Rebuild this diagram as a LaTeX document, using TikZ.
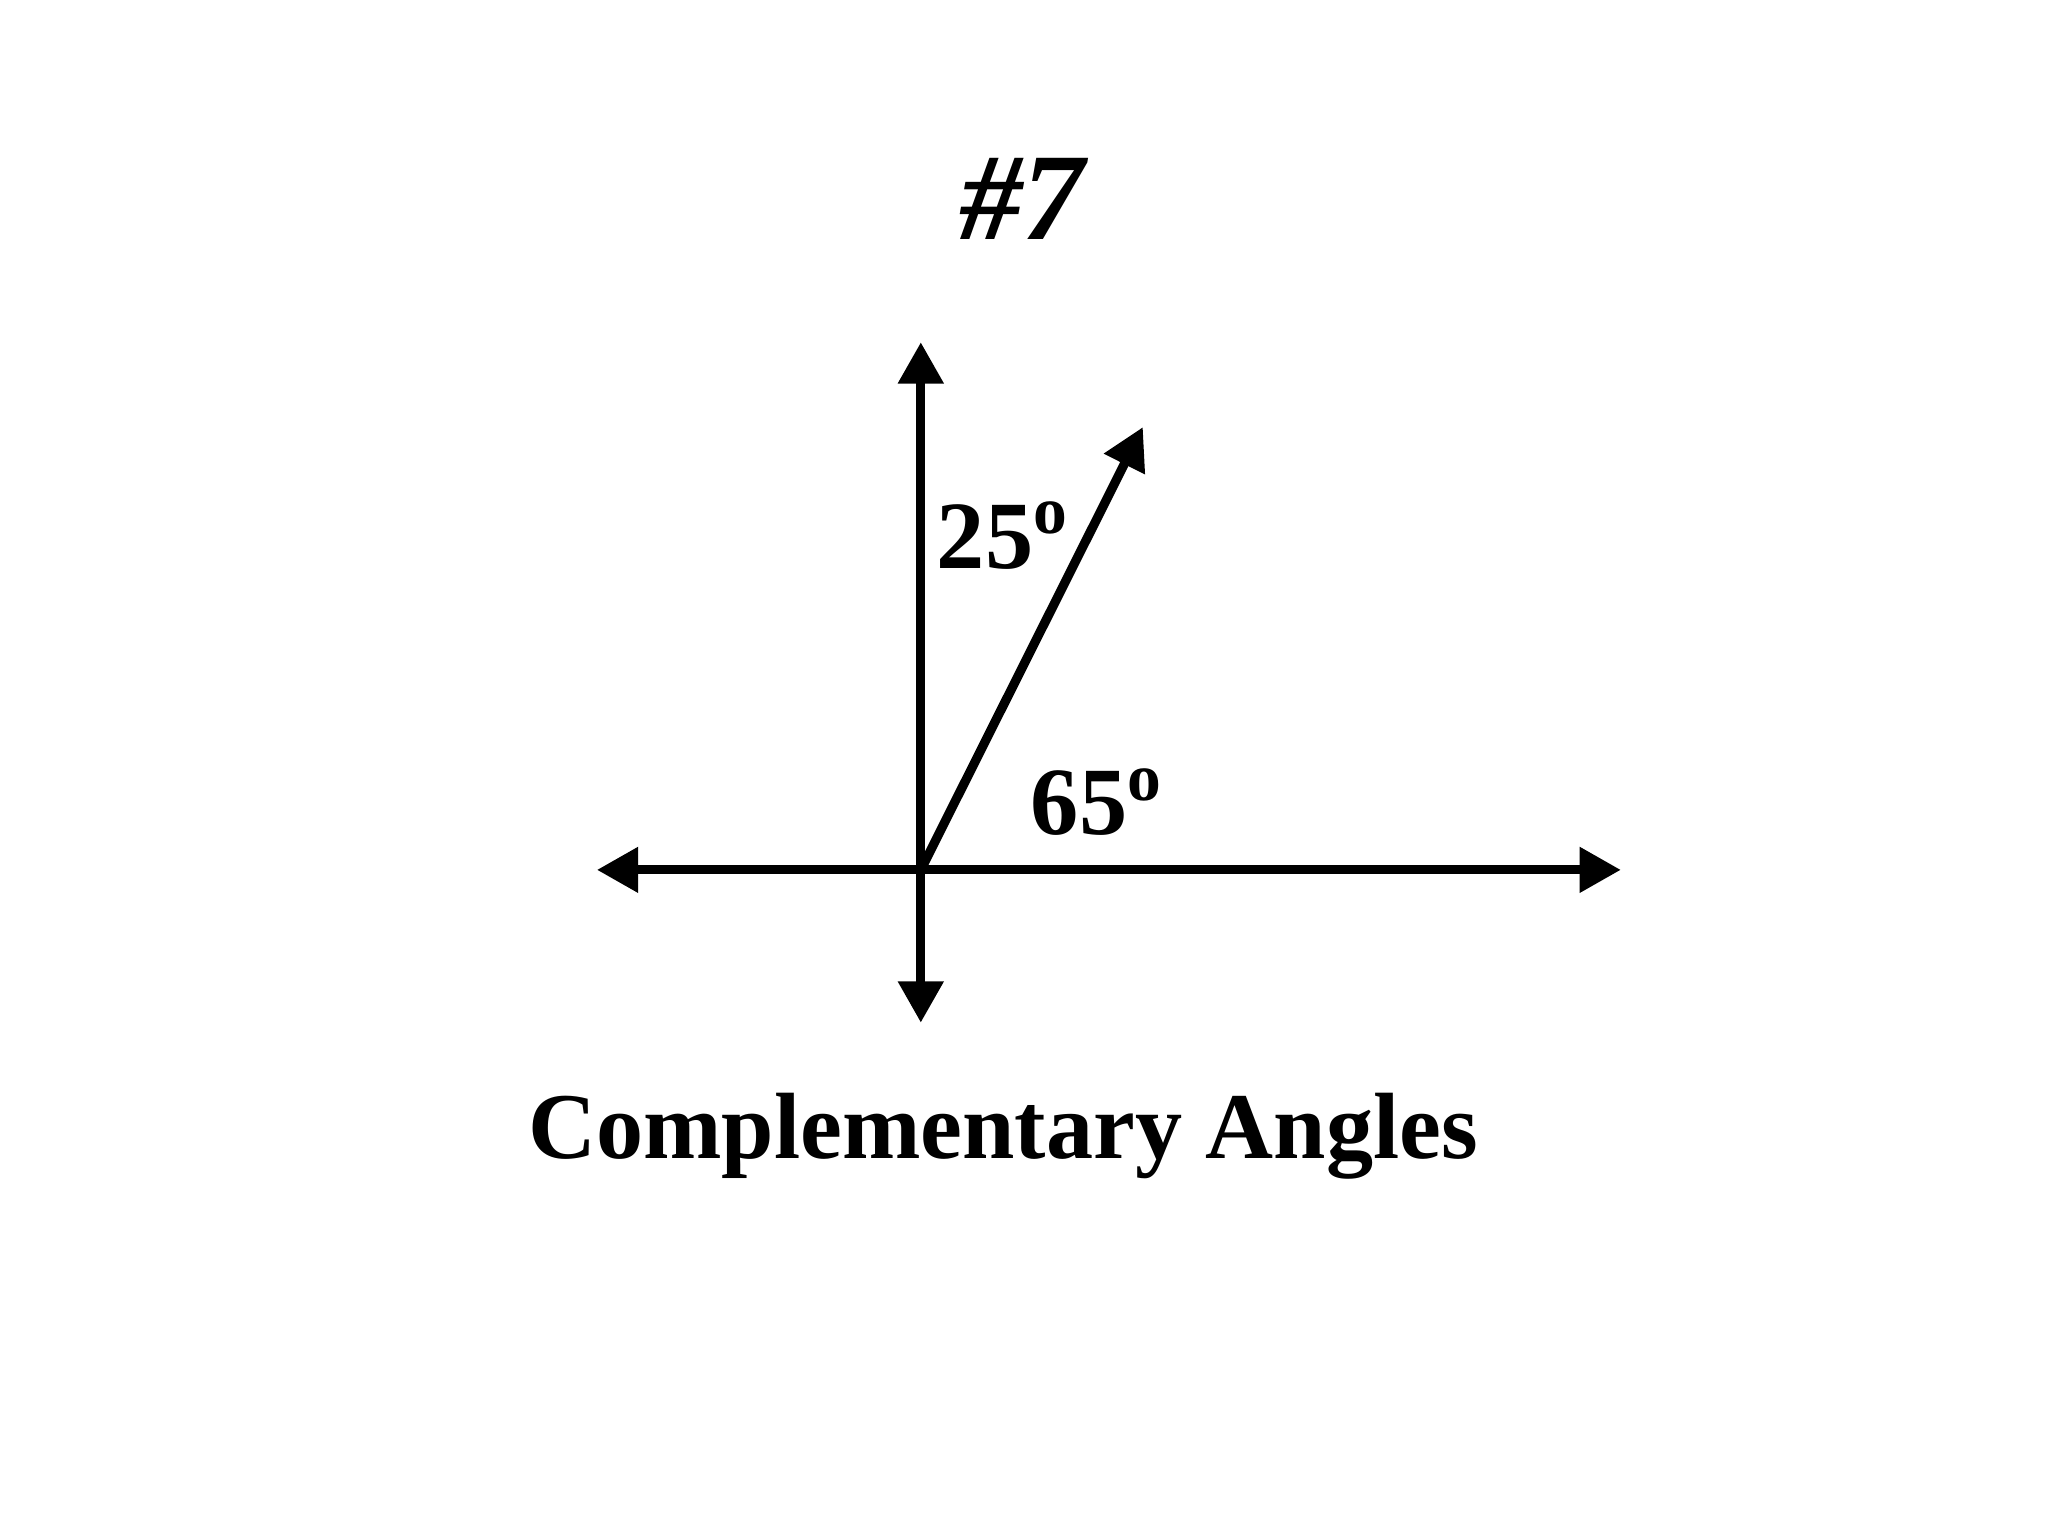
\documentclass[tikz,border=0pt]{standalone}
\usepackage{fontspec}
\setmainfont{Liberation Serif}
\usetikzlibrary{arrows.meta}
\begin{document}
\begin{tikzpicture}[x=0.01cm,y=-0.01cm,
  ray/.style={line width=2pt,{Triangle[length=9pt,width=9.5pt]}-{Triangle[length=9pt,width=9.5pt]}},
  oneray/.style={line width=2pt,-{Triangle[length=9pt,width=9.5pt]}},
  lab/.style={font=\fontsize{21}{24}\selectfont\bfseries}]
\useasboundingbox (0,0) rectangle (1568,1176);
\coordinate (O) at (705,666);
\coordinate (T) at (705,262);
\coordinate (B) at (705,783);
\coordinate (L) at (457,666);
\coordinate (R) at (1241,666);
\coordinate (D) at (875,327);
\draw[ray] (B) -- (T);
\draw[ray] (L) -- (R);
\draw[oneray] (O) -- (D);
\node[font=\fontsize{27}{30}\selectfont\bfseries\itshape] (title) at (783,152) {\#7};
\node[lab] (a) at (768,410) {25\textsuperscript{o}};
\node[lab] (b) at (840,614) {65\textsuperscript{o}};
\node[font=\fontsize{20.5}{24}\selectfont\bfseries] (cap) at (768,870) {Complementary Angles};
\end{tikzpicture}
\end{document}
